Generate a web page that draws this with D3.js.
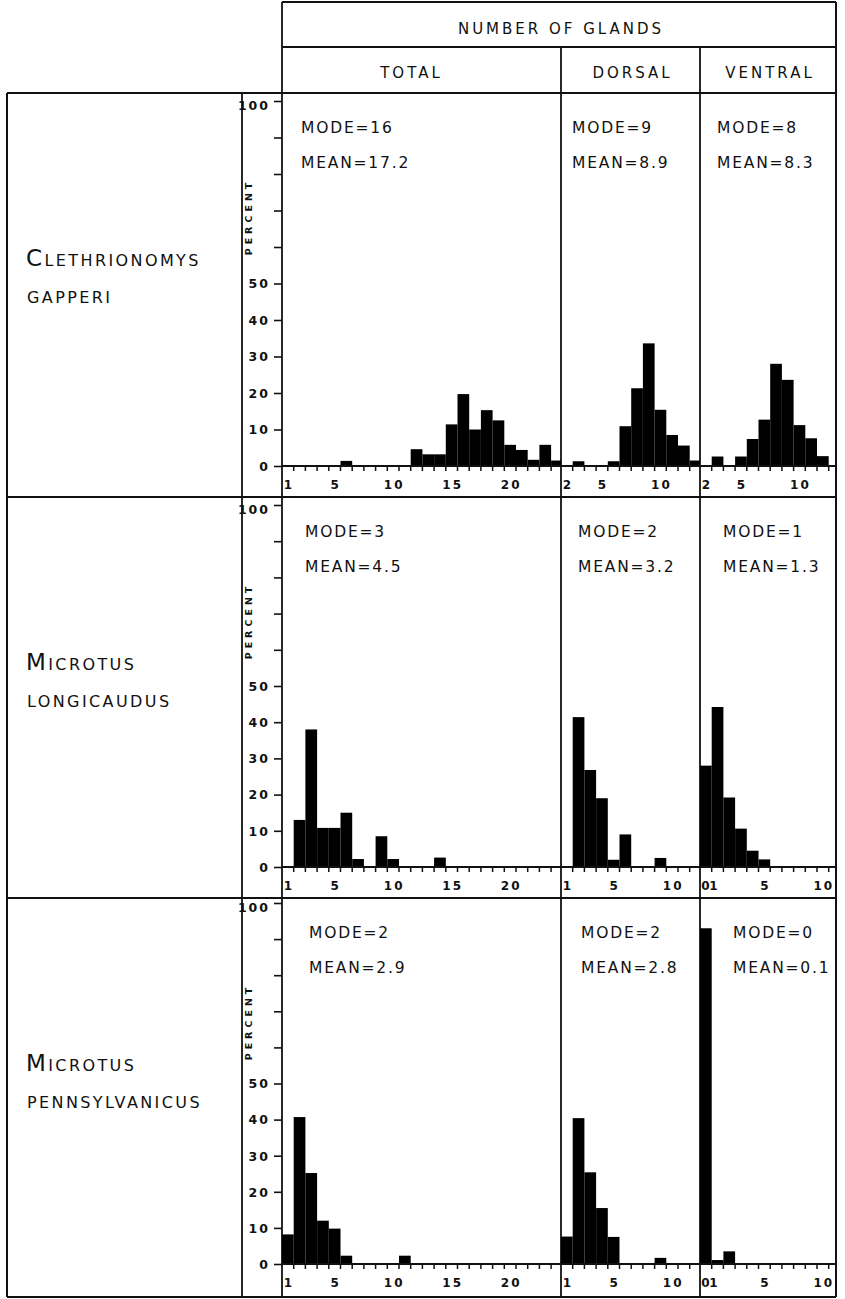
<!DOCTYPE html>
<html>
<head>
<meta charset="utf-8">
<script src="https://cdn.jsdelivr.net/npm/d3@7"></script>
<style>
  body { margin: 0; background: #fff; }
  text { font-family: "DejaVu Sans", sans-serif; fill: #111; }
</style>
</head>
<body>
<div id="container"></div>
<script>
/* DATA */
const columns = ["TOTAL", "DORSAL", "VENTRAL"];
const genus = ["Clethrionomys", "Microtus", "Microtus"];
const speciesName = ["gapperi", "longicaudus", "pennsylvanicus"];
const modes = [[16, 9, 8], [3, 2, 1], [2, 2, 0]];
const means = [["17.2", "8.9", "8.3"], ["4.5", "3.2", "1.3"], ["2.9", "2.8", "0.1"]];

// first gland count shown on each histogram
const firstBin = [[1, 2, 2], [1, 1, 0], [1, 1, 0]];

// percent of animals for each gland count, starting at firstBin
const gapperiTotal = [0, 0, 0, 0, 0, 1.4, 0, 0, 0, 0, 0, 4.6, 3.2, 3.2, 11.4, 19.7, 10, 15.3, 12.5, 5.8, 4.4, 1.7, 5.8, 1.5];
const gapperiDorsal = [0, 1.3, 0, 0, 1.3, 10.9, 21.3, 33.6, 15.4, 8.5, 5.6, 1.5];
const gapperiVentral = [0, 2.6, 0, 2.6, 7.4, 12.7, 28, 23.6, 11.2, 7.6, 2.7];
const longTotal = [0, 13, 38, 10.8, 10.8, 15, 2.2, 0, 8.5, 2.2, 0, 0, 0, 2.6];
const longDorsal = [0, 41.4, 26.8, 19, 2, 9, 0, 0, 2.5];
const longVentral = [28, 44.2, 19.2, 10.6, 4.5, 2.1];
const pennTotal = [8.2, 40.7, 25.2, 12, 9.8, 2.3, 0, 0, 0, 0, 2.3];
const pennDorsal = [7.6, 40.4, 25.4, 15.5, 7.5, 0, 0, 0, 1.7];
const pennVentral = [93, 1.1, 3.5];

const counts = [
  [gapperiTotal, gapperiDorsal, gapperiVentral],
  [longTotal, longDorsal, longVentral],
  [pennTotal, pennDorsal, pennVentral]
];

const xTickLabels = [
  [[1, 5, 10, 15, 20], [2, 5, 10], [2, 5, 10]],
  [[1, 5, 10, 15, 20], [1, 5, 10], [0, 1, 5, 10]],
  [[1, 5, 10, 15, 20], [1, 5, 10], [0, 1, 5, 10]]
];
const yTickLabels = [0, 10, 20, 30, 40, 50, 100];

/* LAYOUT */
const width = 845, height = 1299;
const frameLeft = 7, frameRight = 836, frameTop = 2, frameBottom = 1297;
const labelCol = 242;
const colX = [282, 561, 700, frameRight];
const rowTop = [93, 497, 898];
const baseOff = [373, 370, 366], topOff = [8, 8, 5];
const binW = 11.7;
const textDx = [[19, 11, 17], [23, 17, 23], [27, 20, 33]];
const headerDx = [-12, 0, 0];

const svg = d3.select("#container")
  .append("svg")
  .attr("width", width)
  .attr("height", height);

const line = (x1, y1, x2, y2, w = 1.8) => svg.append("line")
  .attr("x1", x1).attr("y1", y1).attr("x2", x2).attr("y2", y2)
  .attr("stroke", "#111").attr("stroke-width", w);

// GRID
line(colX[0], frameTop, frameRight, frameTop, 2);
line(colX[0], 47, frameRight, 47);
line(frameLeft, 93, frameRight, 93, 2);
line(frameLeft, 93, frameLeft, frameBottom, 2);
line(frameRight, frameTop, frameRight, frameBottom, 2);
line(frameLeft, frameBottom, frameRight, frameBottom, 2);
line(colX[0], frameTop, colX[0], frameBottom);
line(colX[1], 47, colX[1], frameBottom);
line(colX[2], 47, colX[2], frameBottom);
line(labelCol, 93, labelCol, frameBottom);
rowTop.slice(1).forEach(y => line(frameLeft, y, frameRight, y, 2));

// HEADER
svg.append("text")
  .attr("x", (colX[0] + frameRight) / 2 + 2).attr("y", 34)
  .attr("text-anchor", "middle")
  .attr("font-size", 15).attr("letter-spacing", 3)
  .text("NUMBER OF GLANDS");

svg.selectAll("text.col")
  .data(columns)
  .join("text")
  .attr("class", "col")
  .attr("x", (d, i) => (colX[i] + colX[i + 1]) / 2 + 2 + headerDx[i])
  .attr("y", 78)
  .attr("text-anchor", "middle")
  .attr("font-size", 15).attr("letter-spacing", 3)
  .text(d => d);

// ROWS
rowTop.forEach((rt, r) => {
  const g = svg.append("g");
  const y = d3.scaleLinear().domain([0, 100]).range([rt + baseOff[r], rt + topOff[r]]);
  const base = y(0);

  // species name in small caps
  const name = g.append("text")
    .attr("font-size", 23).attr("letter-spacing", 2.4)
    .style("font-variant", "small-caps");
  name.append("tspan").attr("x", 26).attr("y", rt + 173).text(genus[r]);
  name.append("tspan").attr("x", 27).attr("y", rt + 210).text(speciesName[r]);

  // y axis
  const yAxis = d3.axisLeft(y)
    .tickValues(d3.range(0, 101, 10))
    .tickSize(8)
    .tickPadding(4)
    .tickFormat(d => yTickLabels.includes(d) ? d : "");
  const ya = g.append("g")
    .attr("transform", `translate(${colX[0]},0)`)
    .call(yAxis);
  ya.select(".domain").remove();
  ya.selectAll("line").attr("stroke", "#111").attr("stroke-width", 1.6);
  ya.selectAll("text")
    .attr("font-family", "DejaVu Sans")
    .attr("font-weight", "bold")
    .attr("font-size", 12.5)
    .attr("letter-spacing", 2)
    .attr("fill", "#111")
    .attr("dy", d => d === 100 ? "0.7em" : "0.35em");

  g.append("text")
    .attr("transform", `translate(251.5,${rt + 124}) rotate(-90)`)
    .attr("text-anchor", "middle")
    .attr("font-size", 9.5).attr("font-weight", "bold").attr("letter-spacing", 4)
    .text("PERCENT");

  // baseline
  line(colX[0], base, frameRight, base, 1.8);

  columns.forEach((c, k) => {
    const x0 = colX[k], x1 = colX[k + 1];
    const start = firstBin[r][k] - 0.5;
    const x = d3.scaleLinear()
      .domain([start, start + (x1 - x0) / binW])
      .range([x0, x1]);
    const vals = counts[r][k].map((p, i) => ({ v: firstBin[r][k] + i, p }));

    // bars
    g.selectAll(`rect.b${k}`)
      .data(vals.filter(d => d.p > 0))
      .join("rect")
      .attr("class", `b${k}`)
      .attr("x", d => x(d.v - 0.5))
      .attr("width", d => Math.min(x(d.v + 0.5), x1) - x(d.v - 0.5))
      .attr("y", d => y(d.p))
      .attr("height", d => base - y(d.p))
      .attr("fill", "#000");

    // tick marks at bin edges
    const edges = d3.range(firstBin[r][k] + 0.5, x.domain()[1] - 0.2, 1);
    g.selectAll(`line.t${k}`)
      .data(edges)
      .join("line")
      .attr("class", `t${k}`)
      .attr("x1", d => x(d)).attr("x2", d => x(d))
      .attr("y1", base).attr("y2", base + 5)
      .attr("stroke", "#111").attr("stroke-width", 1.5);

    // tick labels, centred in their bins ("0" and "1" squeezed together)
    const labs = xTickLabels[r][k];
    const hasZero = labs.includes(0);
    g.selectAll(`text.l${k}`)
      .data(labs)
      .join("text")
      .attr("class", `l${k}`)
      .attr("x", d => hasZero && d <= 1 ? x(0) + (d === 0 ? -0.5 : 7.5) : x(d) + 1)
      .attr("y", base + 23)
      .attr("text-anchor", "middle")
      .attr("font-size", 12).attr("font-weight", "bold")
      .attr("letter-spacing", d => hasZero && d <= 1 ? 0 : 2)
      .text(d => d);

    // mode and mean
    g.append("text")
      .attr("x", x0 + textDx[r][k]).attr("y", rt + 40)
      .attr("font-size", 15.5).attr("letter-spacing", 1.8)
      .text(`MODE=${modes[r][k]}`);
    g.append("text")
      .attr("x", x0 + textDx[r][k]).attr("y", rt + 75)
      .attr("font-size", 15.5).attr("letter-spacing", 1.8)
      .text(`MEAN=${means[r][k]}`);
  });
});
</script>
</body>
</html>
